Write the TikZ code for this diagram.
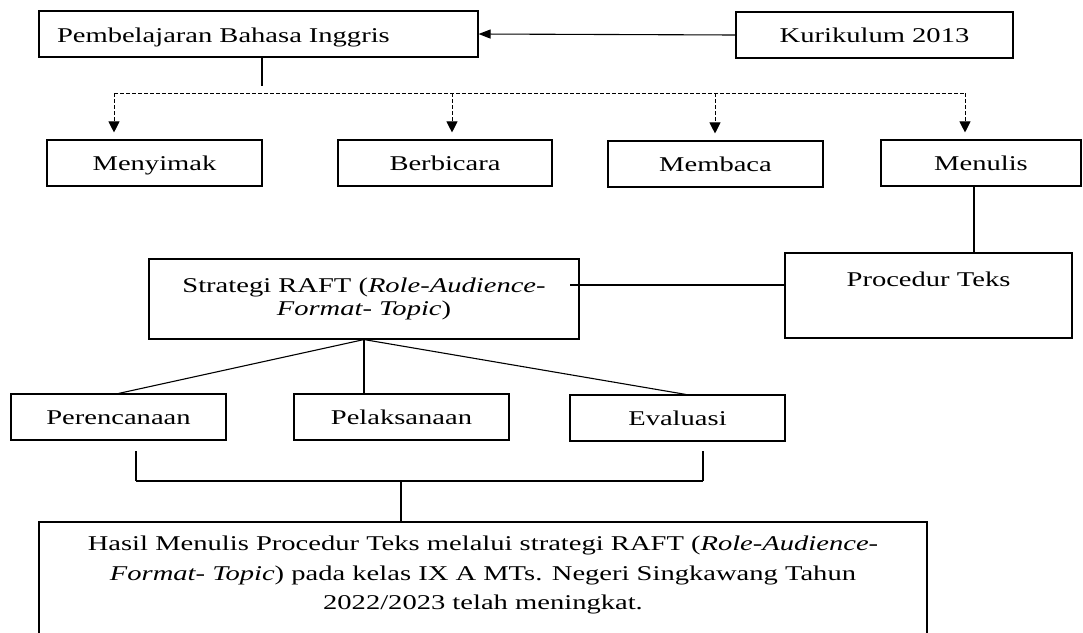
\documentclass[tikz,border=0pt]{standalone}
\usepackage{fontspec}
\setmainfont{Liberation Serif}[FakeStretch=1.36]
\usetikzlibrary{arrows.meta}
\begin{document}
\begin{tikzpicture}[x=1pt,y=-1pt,
  txt/.style={font=\fontsize{21}{24}\selectfont},
  box/.style={draw, line width=1.1pt, inner sep=0pt, txt},
  sbox/.style={box, minimum height=46pt, text height=30pt, text depth=16pt},
  conn/.style={line width=1.1pt},
  dline/.style={line width=0.9pt, dash pattern=on 4pt off 2pt},
  darrow/.style={dline, -{Triangle[length=11pt,width=11pt]}},
  sarrow/.style={conn, -{Triangle[length=12pt,width=9pt]}},
  thick bar/.style={line width=1.8pt}
]
\useasboundingbox (0,0) rectangle (1083,632);

% top row
\node[box, minimum height=46pt, text height=31pt, text depth=15pt, text width=403pt, inner xsep=18pt, align=left] (pem) at (258.5,34) {Pembelajaran Bahasa Inggris};
\node[sbox, minimum width=277pt] (kur) at (874.5,35) {Kurikulum 2013};
\draw[sarrow] (kur.west) -- (pem.east);

% skills
\node[sbox, minimum width=215pt] (meny) at (154.5,163) {Menyimak};
\node[sbox, minimum width=214pt] (berb) at (445,163) {Berbicara};
\node[sbox, minimum width=215pt] (memb) at (715.5,164) {Membaca};
\node[sbox, minimum width=200pt] (menu) at (981,163) {Menulis};

\coordinate (pj) at (262,86);
\draw[conn] (pj |- pem.south) -- (pj);
\coordinate (d1) at (114,93);
\coordinate (d2) at (452,93);
\coordinate (d3) at (715,93);
\coordinate (d4) at (965,93);
\draw[dline] (d1) -- (d4);
\draw[darrow] (d1) -- ([yshift=7pt]d1 |- meny.north);
\draw[darrow] (d2) -- ([yshift=7pt]d2 |- berb.north);
\draw[darrow] (d3) -- ([yshift=7pt]d3 |- memb.north);
\draw[darrow] (d4) -- ([yshift=7pt]d4 |- menu.north);

% strategy and text type
\node[box, minimum width=430pt, minimum height=80pt, align=center,
      font=\fontsize{21}{23}\selectfont] (strat) at (364,299)
  {Strategi RAFT (\textit{Role-Audience-}\\\textit{Format- Topic})};
\node[box, minimum width=287pt, text height=33pt, text depth=52pt] (proc) at (928.5,295.5) {Procedur Teks};
\draw[conn] ([xshift=-7pt]menu.south) -- ([xshift=-7pt]menu.south |- proc.north);
\coordinate (sl) at (570,285);
\draw[conn] (sl) -- (sl -| proc.west);

% stages
\node[sbox, minimum width=215pt] (pere) at (118.5,417) {Perencanaan};
\node[sbox, minimum width=215pt] (pela) at (401.5,417) {Pelaksanaan};
\node[sbox, minimum width=215pt] (eval) at (677.5,418) {Evaluasi};
\draw[conn] (strat.south) -- (pere.north);
\draw[conn] (strat.south) -- (strat.south |- pela.north);
\draw[conn] (strat.south) -- ([xshift=8.5pt]eval.north);

% bracket
\coordinate (bl) at (136,451);
\coordinate (blb) at (136,481);
\coordinate (br) at (703,451);
\coordinate (brb) at (703,481);
\coordinate (mid) at (401,481);
\draw[conn] (bl) -- (blb);
\draw[conn] (br) -- (brb);
\draw[thick bar] (blb) -- (brb);

% result
\node[box, minimum width=888pt, minimum height=112pt] (res) at (483,578) {};
\draw[conn] (mid) -- (mid |- res.north);
\node[txt, align=center, inner sep=0pt, anchor=north, font=\fontsize{21}{29.5}\selectfont] (restxt) at (483,536)
  {Hasil Menulis Procedur Teks melalui strategi RAFT (\textit{Role-Audience-}\\
   \textit{Format- Topic}) pada kelas IX A MTs. Negeri Singkawang Tahun\\
   2022/2023 telah meningkat.};
\end{tikzpicture}
\end{document}
